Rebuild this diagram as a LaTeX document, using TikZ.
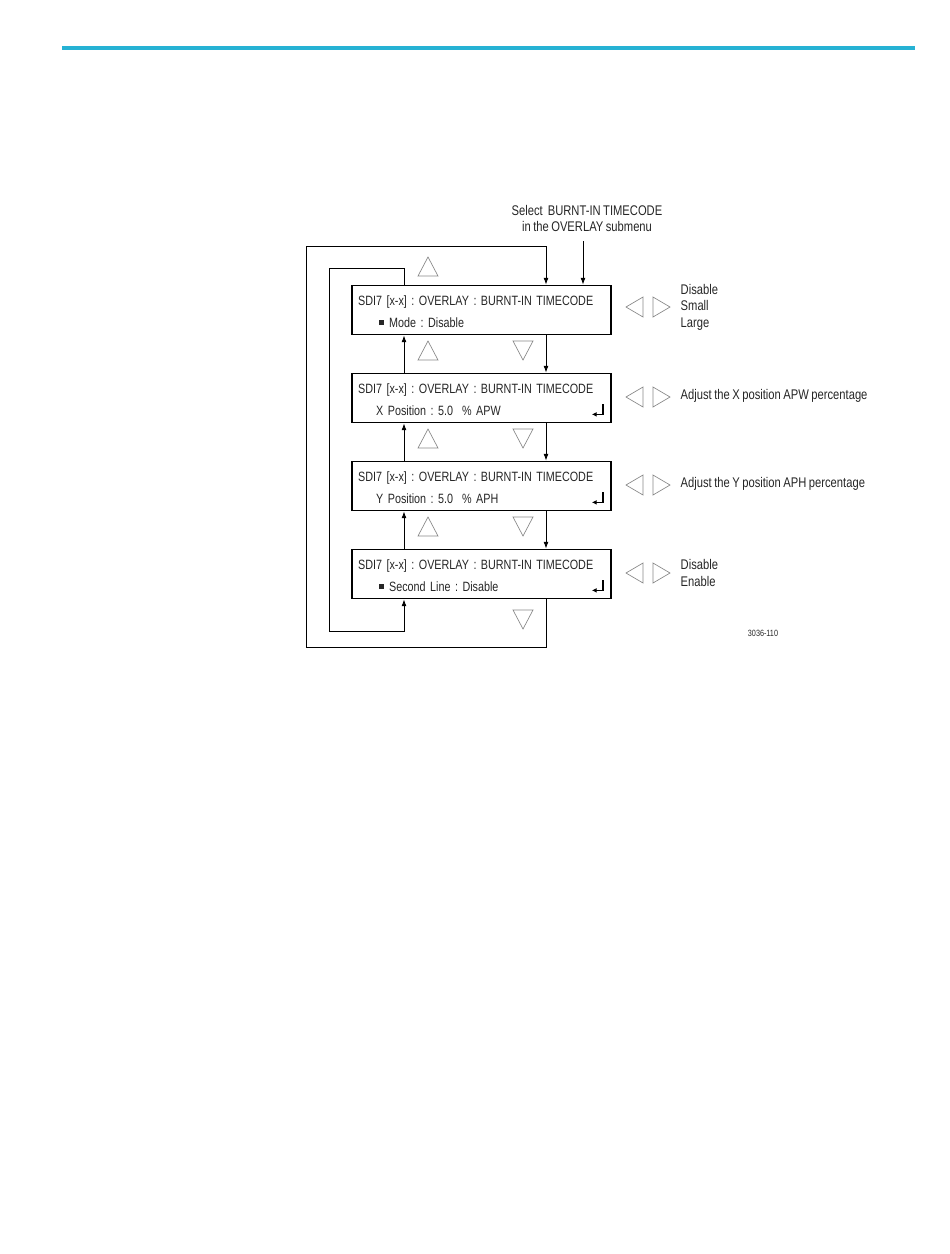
\documentclass[tikz,border=0pt]{standalone}
\usepackage{fontspec}
\setmainfont{Liberation Sans}[FakeStretch=0.8, WordSpace=0.8]
\usetikzlibrary{arrows.meta,positioning,calc}
\definecolor{rulecyan}{RGB}{38,178,212}
\definecolor{trigray}{RGB}{135,135,135}

\begin{document}
\frenchspacing
\begin{tikzpicture}[x=0.75pt, y=-0.75pt, font=\fontsize{10.5}{12.4}\selectfont, text=black!85, menubox/.style={rectangle, draw=black, line width=1.3pt, minimum width=194.25pt, minimum height=36.75pt, text width=185pt, inner xsep=4.5pt, align=left, font=\fontsize{10.1}{16.5}\selectfont}, arrow/.style={-{Latex[length=5pt,width=3.6pt]}, line width=0.6pt}, ret/.style={-{Latex[length=3.5pt,width=3.5pt]}, line width=1pt}, keytri/.style={draw=trigray, line width=0.5pt}, hint/.style={anchor=west, align=left}]
\useasboundingbox (0,0) rectangle (950,1254);
\draw[rulecyan, line width=2.4pt] (62,48) -- (915,48);
% menu screens
\node[menubox] (b1) at (481.5,310) {\rule{0pt}{10.4pt}SDI7 [x-x] : OVERLAY : BURNT-IN TIMECODE\\\hspace*{15.75pt}\raisebox{2pt}{\rule{3.75pt}{3.75pt}}\hspace{3.75pt}Mode : Disable};
\node[menubox] (b2) at (481.5,398) {\rule{0pt}{10.4pt}SDI7 [x-x] : OVERLAY : BURNT-IN TIMECODE\\\hspace*{13.5pt}X Position : 5.0~~\% APW};
\node[menubox] (b3) at (481.5,486) {\rule{0pt}{10.4pt}SDI7 [x-x] : OVERLAY : BURNT-IN TIMECODE\\\hspace*{13.5pt}Y Position : 5.0~~\% APH};
\node[menubox] (b4) at (481.5,574) {\rule{0pt}{10.4pt}SDI7 [x-x] : OVERLAY : BURNT-IN TIMECODE\\\hspace*{15.75pt}\raisebox{2pt}{\rule{3.75pt}{3.75pt}}\hspace{3.75pt}Second Line : Disable};
\draw[ret] ([shift={(-9,-19)}]b2.south east) |- ++(-11,10);
\draw[ret] ([shift={(-9,-19)}]b3.south east) |- ++(-11,10);
\draw[ret] ([shift={(-9,-19)}]b4.south east) |- ++(-11,10);
% entry
\node[align=center, font=\fontsize{10.5}{12}\selectfont] (sel) at (587,218) {Select~~BURNT-IN TIMECODE\\in the OVERLAY submenu};
\coordinate (entx) at (583,0);
\coordinate (upx) at (404,0);
\coordinate (dnx) at (546,0);
\draw[arrow, shorten <=4pt] (sel.south -| entx) -- (b1.north -| entx);
% up / down
\draw[arrow] (b1.south -| dnx) -- (b2.north -| dnx);
\draw[arrow] (b2.south -| dnx) -- (b3.north -| dnx);
\draw[arrow] (b3.south -| dnx) -- (b4.north -| dnx);
\draw[arrow] (b2.north -| upx) -- (b1.south -| upx);
\draw[arrow] (b3.north -| upx) -- (b2.south -| upx);
\draw[arrow] (b4.north -| upx) -- (b3.south -| upx);
% wrap around
\coordinate (il1) at (329,268); \coordinate (il2) at (329,631);
\coordinate (ol1) at (306,246); \coordinate (ol2) at (306,647);
\draw[arrow] (b1.north -| upx) -- (upx |- il1) -- (il1) -- (il2) -- (il2 -| upx) -- (b4.south -| upx);
\draw[arrow] (b4.south -| dnx) -- (dnx |- ol2) -- (ol2) -- (ol1) -- (ol1 -| dnx) -- (b1.north -| dnx);
% keys
\foreach \t in {257,341,429,517} \draw[keytri] (418,\t+19) -- (438,\t+19) -- (428,\t) -- cycle;
\foreach \t in {341,429,517,610} \draw[keytri] (513,\t) -- (533,\t) -- (523,\t+19) -- cycle;
\foreach \c in {307,397,485,573} {
  \draw[keytri] (626,\c) -- (643,\c-10) -- (643,\c+10) -- cycle;
  \draw[keytri] (653,\c-10) -- (670,\c) -- (653,\c+10) -- cycle;
}
% choices
\node[hint] (opt1) at (676,307) {Disable\\Small\\Large};
\node[hint] (opt2) at (676,396) {Adjust the X position APW percentage};
\node[hint] (opt3) at (676,484) {Adjust the Y position APH percentage};
\node[hint] (opt4) at (676,573) {Disable\\Enable};
\node[font=\fontsize{6.8}{8}\selectfont] (fig) at (763,633) {3036-110};
\end{tikzpicture}
\end{document}
